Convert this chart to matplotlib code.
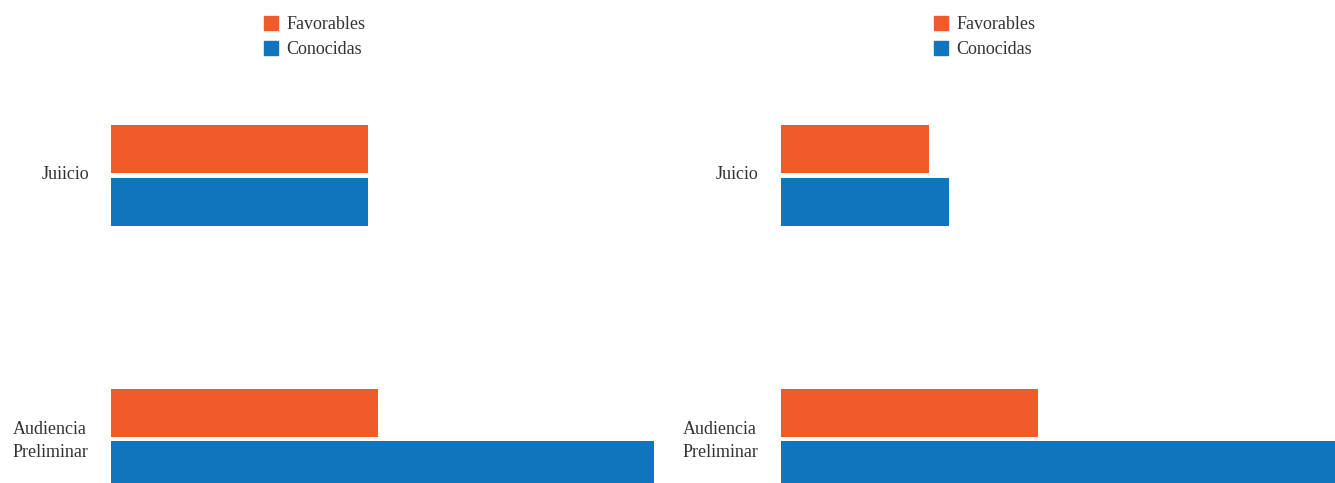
import matplotlib.pyplot as plt
from matplotlib.patches import Patch

plt.rcParams['font.family'] = ['Liberation Serif', 'DejaVu Serif']

# etapas (de abajo hacia arriba)
etapas_izq = ['Audiencia\nPreliminar', 'Juiicio']
etapas_der = ['Audiencia\nPreliminar', 'Juicio']

favorables_izq = [54, 52]
conocidas_izq = [110, 52]

favorables_der = [52, 30]
conocidas_der = [112, 34]

NARANJA = '#F15A2B'
AZUL = '#1075BD'
TEXTO = '#333333'

fig = plt.figure(figsize=(13.35, 4.83), dpi=100)

def panel(rect, etapas, fav, con, leg_x):
    ax = fig.add_axes(rect)
    pos = list(range(len(etapas)))
    h = 0.183
    off = 0.1
    ax.barh([p + off for p in pos], fav, height=h, color=NARANJA)
    ax.barh([p - off for p in pos], con, height=h, color=AZUL)
    ax.set_xlim(0, max(con + fav))
    ax.set_ylim(-0.167, 1.666)
    # etiquetas un poco por encima del centro del grupo
    ax.set_yticks([p + 0.013 for p in pos])
    ax.set_yticklabels(etapas, fontsize=13, color=TEXTO, linespacing=1.5)
    for lab in ax.get_yticklabels():
        lab.set_multialignment('left')
    ax.tick_params(axis='y', length=0, pad=16)
    ax.set_xticks([])
    for s in ax.spines.values():
        s.set_visible(False)
    handles = [Patch(color=NARANJA, label='Favorables'),
               Patch(color=AZUL, label='Conocidas')]
    fig.legend(handles=handles, loc='upper left',
               bbox_to_anchor=(leg_x, 0.967), frameon=False,
               fontsize=13, labelcolor=TEXTO, handlelength=0.8,
               handleheight=0.8, handletextpad=0.45, labelspacing=0.42,
               borderpad=0, borderaxespad=0)
    return ax

panel([111 / 1335, 0, 543 / 1335, 1], etapas_izq, favorables_izq, conocidas_izq, 264 / 1335)
panel([781 / 1335, 0, 554 / 1335, 1], etapas_der, favorables_der, conocidas_der, 934 / 1335)

plt.savefig('out.png', dpi=100)
